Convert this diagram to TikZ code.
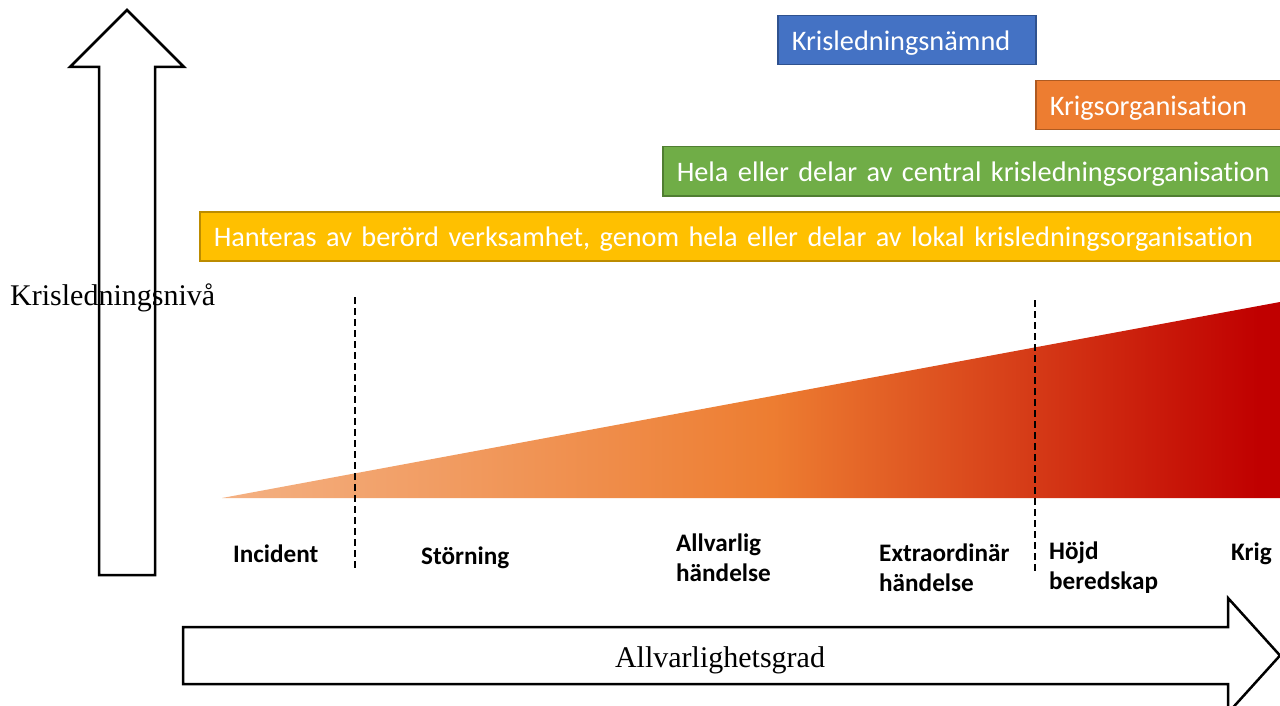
\documentclass[tikz,border=0pt]{standalone}
\usepackage{fontspec}
\setmainfont{Liberation Serif}
\newfontfamily\calib[Ligatures={NoCommon}]{Carlito}
\definecolor{kblue}{HTML}{4472C4}
\definecolor{kblueD}{HTML}{2F528F}
\definecolor{korange}{HTML}{ED7D31}
\definecolor{korangeD}{HTML}{AE5A21}
\definecolor{kgreen}{HTML}{70AD47}
\definecolor{kgreenD}{HTML}{507E32}
\definecolor{kyellow}{HTML}{FFC000}
\definecolor{kyellowD}{HTML}{BC8C00}
\definecolor{sevA}{HTML}{F4B183}
\definecolor{sevB}{HTML}{ED7D31}
\definecolor{sevC}{HTML}{C00000}
\pgfdeclarehorizontalshading{severity}{100bp}{color(0bp)=(sevA); color(25bp)=(sevA); color(51bp)=(sevB); color(74bp)=(sevC); color(100bp)=(sevC)}
\tikzset{
  orgbox/.style 2 args={draw=#2, fill=#1, line width=1.5pt, anchor=north west,
    inner xsep=14pt, inner ysep=0pt, minimum height=49pt, align=left,
    text height=23pt, text depth=3pt,
    text=white, font=\calib\fontsize{28.3}{32}\selectfont},
  phase/.style={anchor=west, inner sep=0pt, align=left,
    font=\calib\bfseries\fontsize{25.2}{30}\selectfont},
  axislabel/.style={inner sep=0pt, font=\fontsize{30}{34}\selectfont},
  bigarrow/.style={draw=black, line width=2.5pt, miter limit=10},
  divider/.style={draw=black, line width=2.8pt, dash pattern=on 7pt off 4pt}
}
\begin{document}
\begin{tikzpicture}[x=1pt,y=-1pt]
\clip (0,0) rectangle (1280,706);
\fill[white] (0,0) rectangle (1280,706);

% severity wedge
\shade[shading=severity] (222,498) -- (1280,498) -- (1280,302) -- cycle;

% dividers
\coordinate (d1a) at (355,297); \coordinate (d1b) at (355,570);
\coordinate (d2a) at (1035,300); \coordinate (d2b) at (1035,573);
\draw[divider] (d1a) -- (d1b);
\draw[divider] (d2a) -- (d2b);

% organisation boxes
\node[orgbox={kblue}{kblueD}, text width=230pt] (blue) at (777,15) {Krisledningsnämnd};
\node[orgbox={korange}{korangeD}, text width=240pt] (orange) at (1035,80) {Krigsorganisation};
\node[orgbox={kgreen}{kgreenD}, text width=610pt] (green) at (662,146) {Hela eller delar av central krisledningsorganisation};
\node[orgbox={kyellow}{kyellowD}, text width=1070pt] (yellow) at (199,211) {Hanteras av berörd verksamhet, genom hela eller delar av lokal krisledningsorganisation};

% phase labels
\node[phase] (incident) at (233,554) {Incident};
\node[phase] (storning) at (421,558) {Störning};
\node[phase] (allvarlig) at (676,558) {Allvarlig\\händelse};
\node[phase] (extra) at (879,568) {Extraordinär\\händelse};
\node[phase] (hojd) at (1049,568) {Höjd\\beredskap};
\node[phase] (krig) at (1231,554) {Krig};

% axis labels
\node[axislabel, anchor=west] (ylab) at (10,298) {Krisledningsnivå};
\node[axislabel] (xlab) at (720,660) {Allvarlighetsgrad};

% big arrows
\draw[bigarrow] (99,575) -- (99,67) -- (70,67) -- (127,10) -- (184,67) -- (155,67) -- (155,575) -- cycle;
\draw[bigarrow] (183,627) -- (1228,627) -- (1228,598) -- (1280,655.5) -- (1228,713) -- (1228,684) -- (183,684) -- cycle;
\end{tikzpicture}
\end{document}
